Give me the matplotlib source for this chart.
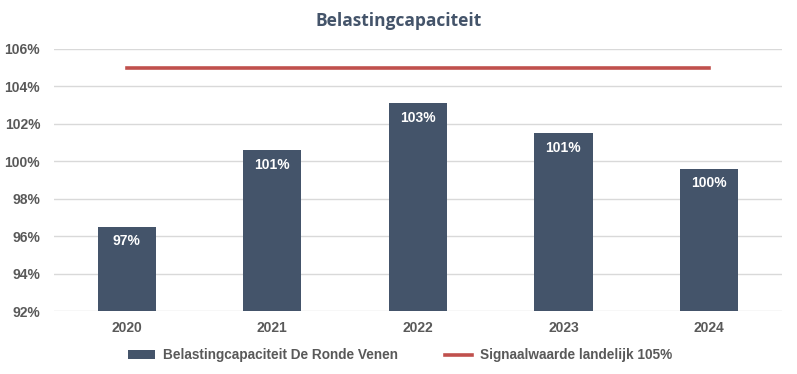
import matplotlib
matplotlib.use("Agg")
from matplotlib import pyplot as plt
from matplotlib.ticker import FuncFormatter

plt.rcParams["font.family"] = ["Liberation Sans", "DejaVu Sans"]

years = ["2020", "2021", "2022", "2023", "2024"]
capaciteit = [96.5, 100.6, 103.1, 101.5, 99.6]
labels = ["97%", "101%", "103%", "101%", "100%"]
signaal = [105, 105, 105, 105, 105]

bar_color = "#44546A"
line_color = "#C0504D"
text_gray = "#595959"

fig = plt.figure(figsize=(7.97, 3.74), dpi=100)
ax = fig.add_axes([0.0678, 0.1684, 0.913, 0.7006])

x = list(range(len(years)))
bars = ax.bar(x, capaciteit, width=0.4, color=bar_color, zorder=3)
line, = ax.plot(x, signaal, color=line_color, lw=2.6, zorder=4)

for xi, v, t in zip(x, capaciteit, labels):
    ax.text(xi, v - 0.4, t, ha="center", va="top", color="white",
            fontsize=10, fontweight="bold", zorder=5)

ax.set_ylim(92, 106)
ax.set_xlim(-0.5, 4.5)
ax.set_yticks(range(92, 107, 2))
ax.yaxis.set_major_formatter(FuncFormatter(lambda v, p: f"{v:.0f}%"))
ax.set_xticks(x)
ax.set_xticklabels(years)
ax.grid(axis="y", color="#D9D9D9", lw=1, zorder=0)
for s in ax.spines.values():
    s.set_visible(False)
ax.tick_params(length=0, colors=text_gray, labelsize=10, pad=7)
ax.tick_params(axis="y", pad=10)
for lbl in ax.get_xticklabels() + ax.get_yticklabels():
    lbl.set_fontweight("bold")

fig.text(0.5, 0.945, "Belastingcapaciteit", ha="center", va="center",
         fontsize=12.5, fontweight="bold", color="#44546A",
         family=["Open Sans", "DejaVu Sans"])

leg = fig.legend([bars, line],
                 ["Belastingcapaciteit De Ronde Venen", "Signaalwaarde landelijk 105%"],
                 loc="center", bbox_to_anchor=(0.502, 0.05), ncol=2, frameon=False,
                 fontsize=9.8, handlelength=2.0, handletextpad=0.6, columnspacing=3.4)
for t in leg.get_texts():
    t.set_color(text_gray)
    t.set_fontweight("bold")

fig.savefig("out.png", dpi=100)
